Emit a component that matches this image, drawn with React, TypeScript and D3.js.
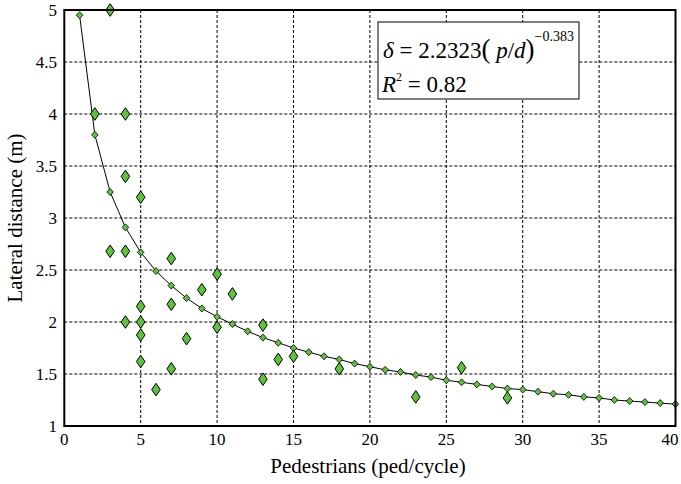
import React from "react";
import * as d3 from "d3";

const fitX = d3.range(1, 41);
const fitY = [4.95, 3.8, 3.25, 2.91, 2.67, 2.49, 2.35, 2.23, 2.13, 2.05, 1.98, 1.91, 1.85, 1.8, 1.75, 1.71, 1.67, 1.64, 1.6, 1.57, 1.54, 1.52, 1.49, 1.47, 1.44, 1.42, 1.4, 1.38, 1.36, 1.35, 1.33, 1.31, 1.3, 1.28, 1.27, 1.25, 1.24, 1.23, 1.22, 1.21];

const obsX = [3, 2, 4, 4, 5, 3, 4, 7, 10, 9, 11, 4, 5, 5, 5, 5, 7, 7, 6, 8, 10, 13, 13, 14, 15, 18, 23, 26, 29];
const obsY = [5.0, 4.0, 4.0, 3.4, 3.2, 2.68, 2.68, 2.61, 2.46, 2.31, 2.27, 2.0, 2.15, 2.0, 1.875, 1.62, 2.17, 1.55, 1.35, 1.84, 1.95, 1.97, 1.45, 1.64, 1.67, 1.55, 1.28, 1.56, 1.27];

const xTicks = [0, 5, 10, 15, 20, 25, 30, 35, 40];
const yTicks = [1, 1.5, 2, 2.5, 3, 3.5, 4, 4.5, 5];

const W = 681, H = 484;
const L = 64.3, R = 675.5, T = 10, B = 426;
const GREEN = "#5cc43a";
const FONT = "Liberation Serif, DejaVu Serif, Times New Roman, serif";
const fs = (size: number, extra: React.CSSProperties = {}): React.CSSProperties => ({ fontFamily: FONT, fontSize: size, ...extra });

export default function App() {
  const x = d3.scaleLinear().domain([0, 40]).range([L, R]);
  const y = d3.scaleLinear().domain([1, 5]).range([B, T]);
  const line = d3.line<number>().x((_, i) => x(fitX[i])).y((v) => y(v));
  const diamond = (cx: number, cy: number, hw: number, hh: number) =>
    `M${cx},${cy - hh}L${cx + hw},${cy}L${cx},${cy + hh}L${cx - hw},${cy}Z`;
  return (
    <svg width={W} height={H} style={{ position: "absolute", left: 0, top: 0, background: "#fff" }}>
      <rect x={0} y={0} width={W} height={H} fill="#fff" />
      {xTicks.slice(1, -1).map((t) => (
        <line key={"gx" + t} x1={x(t)} x2={x(t)} y1={T} y2={B} stroke="#000" strokeWidth={1} strokeDasharray="3,2" />
      ))}
      {yTicks.slice(1, -1).map((t) => (
        <line key={"gy" + t} x1={L} x2={R} y1={y(t)} y2={y(t)} stroke="#000" strokeWidth={1} strokeDasharray="3,2" />
      ))}
      <rect x={378} y={22} width={201} height={77} fill="#fff" stroke="#000" strokeWidth={1} />
      <text x={383} y={58} style={fs(23)}>
        <tspan style={{ fontStyle: "italic" }}>δ</tspan>
        <tspan> = 2.2323</tspan>
        <tspan style={{ fontSize: 27 }}>(</tspan>
        <tspan style={{ fontStyle: "italic" }}> p</tspan>
        <tspan>/</tspan>
        <tspan style={{ fontStyle: "italic" }}>d</tspan>
        <tspan style={{ fontSize: 27 }}>)</tspan>
        <tspan style={{ fontSize: 14 }} dy={-17}>−0.383</tspan>
      </text>
      <text x={382} y={92} style={fs(23)}>
        <tspan style={{ fontStyle: "italic" }}>R</tspan>
        <tspan style={{ fontSize: 12 }} dy={-11}>2</tspan>
        <tspan dy={11}> = 0.82</tspan>
      </text>
      <path d={line(fitY) || ""} fill="none" stroke="#000" strokeWidth={1} />
      {fitY.map((v, i) => (
        <path key={"f" + i} d={diamond(x(fitX[i]), y(v), 3.3, 3.5)} fill={GREEN} stroke="#000" strokeWidth={0.8} />
      ))}
      {obsY.map((v, i) => (
        <path key={"o" + i} d={diamond(x(obsX[i]), y(v), 4.3, 6.3)} fill={GREEN} stroke="#000" strokeWidth={1} />
      ))}
      <rect x={L} y={T} width={R - L} height={B - T} fill="none" stroke="#000" strokeWidth={2} />
      {xTicks.map((t) => (
        <text key={"xt" + t} x={Math.min(x(t), 670)} y={445} textAnchor="middle" style={fs(17)}>
          {t}
        </text>
      ))}
      {yTicks.map((t) => (
        <text key={"yt" + t} x={57} y={y(t) + 6} textAnchor="end" style={fs(17)}>
          {t}
        </text>
      ))}
      <text x={368} y={473} textAnchor="middle" style={fs(21)}>
        Pedestrians (ped/cycle)
      </text>
      <text transform={`translate(22,${(T + B) / 2}) rotate(-90)`} textAnchor="middle" style={fs(21)}>
        Lateral distance (m)
      </text>
    </svg>
  );
}
